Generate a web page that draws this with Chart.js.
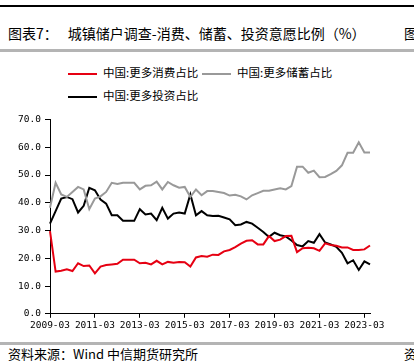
<!DOCTYPE html>
<html lang="zh">
<head>
  <meta charset="UTF-8">
  <title>城镇储户调查</title>
  <script src="https://cdn.jsdelivr.net/npm/chart.js"></script>
  <style>
    html, body {
      margin: 0;
      padding: 0;
      width: 414px;
      height: 361px;
      overflow: hidden;
      background: #fff;
      font-family: "Noto Sans CJK SC", sans-serif;
      color: #000;
    }
    .wrap { position: relative; width: 414px; height: 361px; overflow: hidden; }
    .topline { position: absolute; left: 0; top: 5px; width: 414px; height: 2px; background: #000; }
    .title { position: absolute; left: 8px; top: 24px; font-size: 14px; line-height: 18px; white-space: nowrap; }
    .title .gap { display: inline-block; width: 10px; }
    .cut { position: absolute; left: 404px; font-size: 14px; line-height: 18px; white-space: nowrap; }
    .grayline { position: absolute; left: 0; width: 414px; height: 3px; background: #b4b4b4; }
    .legend { position: absolute; font-size: 11.5px; line-height: 14px; white-space: nowrap; }
    .legend span.sw { display: inline-block; width: 29px; height: 2px; vertical-align: middle; margin-right: 6px; }
    #chart { position: absolute; left: 0; top: 100px; }
    .source { position: absolute; left: 8px; top: 346px; font-size: 13px; line-height: 16px; white-space: nowrap; }
  </style>
</head>
<body>
<div class="wrap">
  <div class="topline"></div>
  <div class="title">图表7：<span class="gap"></span>城镇储户调查-消费、储蓄、投资意愿比例（%）</div>
  <div class="cut" style="top:24px;">图</div>
  <div class="grayline" style="top:49px;"></div>

  <div class="legend" style="left:68px; top:65px;"><span class="sw" style="background:#e60012;"></span>中国:更多消费占比</div>
  <div class="legend" style="left:202px; top:65px;"><span class="sw" style="background:#999;"></span>中国:更多储蓄占比</div>
  <div class="legend" style="left:68px; top:88px;"><span class="sw" style="background:#000;"></span>中国:更多投资占比</div>

  <canvas id="chart" width="414" height="235"></canvas>

  <div class="grayline" style="top:342px;"></div>
  <div class="source">资料来源：Wind 中信期货研究所</div>
  <div class="cut" style="top:345px; font-size:13px;">资</div>
</div>

<script>
  // 季度数据 2009-03 ~ 2023-06
  const quarters = [];
  for (let y = 2009; y <= 2023; y++) {
    ['03', '06', '09', '12'].forEach(function (m) {
      if (y === 2023 && (m === '09' || m === '12')) return;
      quarters.push(y + '-' + m);
    });
  }

  const consume = [29.8, 15.2, 15.5, 16.0, 15.4, 18.2, 17.2, 17.4, 14.6, 17.0,
                   17.6, 17.8, 18.0, 19.5, 19.5, 19.5, 18.2, 18.4, 17.8, 19.1,
                   17.8, 18.7, 18.4, 18.7, 18.6, 17.0, 20.3, 20.8, 20.6, 21.3,
                   21.2, 22.5, 23.0, 24.0, 25.3, 26.3, 26.5, 25.0, 25.0, 28.0,
                   26.2, 26.7, 28.0, 28.1, 22.2, 23.6, 23.8, 23.6, 22.7, 25.4,
                   24.8, 24.5, 23.9, 23.9, 23.0, 23.0, 23.2, 24.6];

  const savings = [38.2, 47.2, 43.0, 42.1, 43.9, 45.7, 44.8, 37.7, 41.5, 42.3,
                   43.9, 47.2, 46.8, 47.2, 47.2, 47.2, 44.8, 46.1, 46.3, 47.6,
                   44.8, 47.5, 46.3, 45.4, 45.7, 42.1, 44.8, 42.7, 44.2, 44.2,
                   43.9, 43.5, 42.6, 42.9, 42.3, 41.2, 42.7, 43.5, 44.3, 44.3,
                   44.8, 45.2, 44.8, 46.0, 53.0, 53.0, 50.8, 51.6, 49.2, 49.3,
                   50.3, 51.5, 53.5, 58.0, 58.0, 61.8, 58.1, 58.1];

  const invest = [32.5, 37.0, 41.5, 42.1, 41.3, 36.5, 38.9, 45.4, 44.5, 41.2,
                  39.7, 35.5, 35.5, 33.5, 33.5, 33.5, 37.7, 35.8, 36.1, 33.7,
                  38.2, 34.3, 36.1, 36.5, 36.1, 43.0, 35.5, 37.0, 35.5, 35.2,
                  35.3, 34.7, 34.0, 31.9, 32.2, 33.1, 32.5, 31.0, 29.5, 27.7,
                  29.2, 28.3, 27.9, 26.4, 24.8, 24.3, 26.2, 25.6, 28.7, 25.7,
                  25.0, 24.1, 22.0, 18.2, 19.3, 15.8, 18.9, 17.8];

  const tickFont = { family: "'DejaVu Sans Mono', monospace", size: 9.5 };

  const ctx = document.getElementById('chart').getContext('2d');
  new Chart(ctx, {
    type: 'line',
    data: {
      labels: quarters,
      datasets: [
        { label: '中国:更多消费占比', data: consume, borderColor: '#e60012', borderWidth: 2, pointRadius: 0, tension: 0 },
        { label: '中国:更多储蓄占比', data: savings, borderColor: '#999999', borderWidth: 2, pointRadius: 0, tension: 0 },
        { label: '中国:更多投资占比', data: invest, borderColor: '#000000', borderWidth: 2, pointRadius: 0, tension: 0 }
      ]
    },
    options: {
      responsive: false,
      animation: false,
      layout: { padding: { top: 19.5, right: 44, bottom: 0, left: 0 } },
      plugins: {
        legend: { display: false },
        tooltip: { enabled: false }
      },
      scales: {
        x: {
          offset: false,
          grid: { drawOnChartArea: false, drawTicks: true, tickLength: 4, color: '#000' },
          border: { display: true, color: '#000', width: 1 },
          ticks: {
            autoSkip: false,
            maxRotation: 0,
            padding: 2,
            color: '#000',
            font: tickFont,
            callback: function (v, i) { return i % 8 === 0 ? quarters[i] : null; }
          },
          afterFit: function (s) { s.height = 21.2; }
        },
        y: {
          min: 0,
          max: 70,
          grid: { drawOnChartArea: false, drawTicks: true, tickLength: 5, color: '#000' },
          border: { display: true, color: '#000', width: 1 },
          ticks: {
            stepSize: 10,
            padding: 4,
            color: '#000',
            font: tickFont,
            callback: function (v) { return v.toFixed(1); }
          },
          afterFit: function (s) { s.width = 50; }
        }
      }
    }
  });
</script>
</body>
</html>
